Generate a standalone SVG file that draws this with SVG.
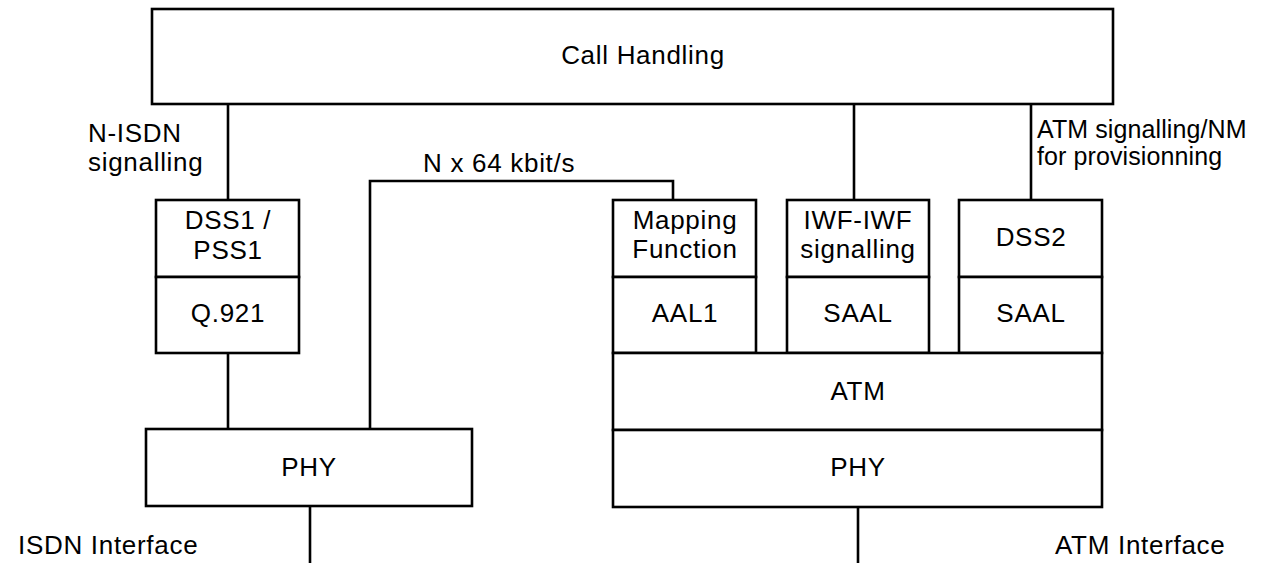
<svg xmlns="http://www.w3.org/2000/svg" width="1262" height="563" viewBox="0 0 1262 563">
<style>
.n{fill:#fff;stroke:#000;stroke-width:2.6}
.c{fill:none;stroke:#000;stroke-width:2.6}
text{font-family:"Liberation Sans",Arial,sans-serif;font-size:26px;fill:#000;letter-spacing:0.7px}
.m{text-anchor:middle}
.s{font-size:25px;letter-spacing:0.1px}
</style>
<rect width="1262" height="563" fill="#fff"/>
<g id="connectors">
<path class="c" d="M228 104V200"/>
<path class="c" d="M854 104V200"/>
<path class="c" d="M1031 104V200"/>
<path class="c" d="M228 353V429"/>
<path class="c" d="M370 429V181H673V200"/>
<path class="c" d="M310 506V563"/>
<path class="c" d="M858 507V563"/>
</g>
<g id="call-handling"><rect class="n" x="152" y="9" width="961" height="95"/><text class="m" x="643" y="64">Call Handling</text></g>
<g id="dss1"><rect class="n" x="156" y="200" width="143" height="77"/><text class="m" x="228" y="229">DSS1 /</text><text class="m" x="228" y="259">PSS1</text></g>
<g id="q921"><rect class="n" x="156" y="277" width="143" height="76"/><text class="m" x="228" y="322">Q.921</text></g>
<g id="phy-isdn"><rect class="n" x="146" y="429" width="326" height="77"/><text class="m" x="309" y="476">PHY</text></g>
<g id="mapping"><rect class="n" x="613" y="200" width="143" height="77"/><text class="m" x="685" y="229">Mapping</text><text class="m" x="685" y="258">Function</text></g>
<g id="aal1"><rect class="n" x="613" y="277" width="143" height="76"/><text class="m" x="685" y="322">AAL1</text></g>
<g id="iwf"><rect class="n" x="787" y="200" width="142" height="77"/><text class="m" x="858" y="229">IWF-IWF</text><text class="m" x="858" y="258">signalling</text></g>
<g id="saal1"><rect class="n" x="787" y="277" width="142" height="76"/><text class="m" x="858" y="322">SAAL</text></g>
<g id="dss2"><rect class="n" x="959" y="200" width="143" height="77"/><text class="m" x="1031" y="246">DSS2</text></g>
<g id="saal2"><rect class="n" x="959" y="277" width="143" height="76"/><text class="m" x="1031" y="322">SAAL</text></g>
<g id="atm"><rect class="n" x="613" y="353" width="489" height="77"/><text class="m" x="858" y="400">ATM</text></g>
<g id="phy-atm"><rect class="n" x="613" y="430" width="489" height="77"/><text class="m" x="858" y="476">PHY</text></g>
<g id="labels">
<text x="88" y="142">N-ISDN</text>
<text x="88" y="171">signalling</text>
<text x="423" y="172">N x 64 kbit/s</text>
<text class="s" x="1037" y="138">ATM signalling/NM</text>
<text class="s" x="1037" y="165">for provisionning</text>
<text x="18" y="554">ISDN Interface</text>
<text x="1055" y="554">ATM Interface</text>
</g>
</svg>
